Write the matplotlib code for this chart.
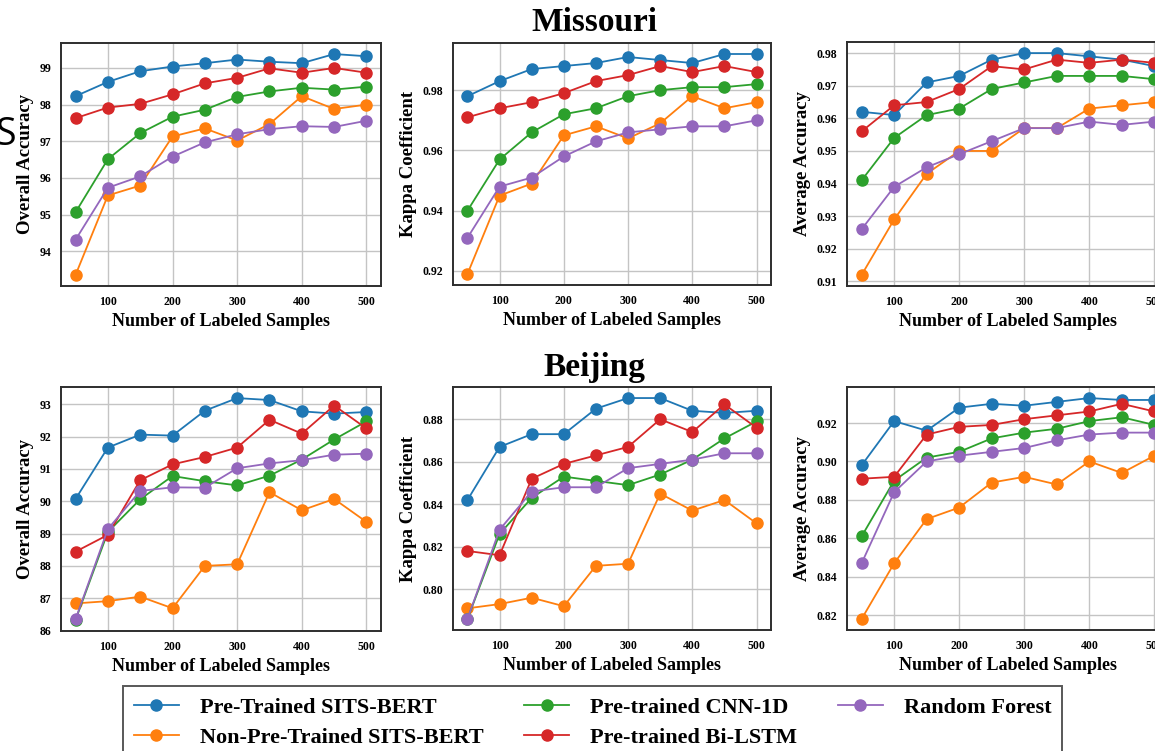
import matplotlib
matplotlib.use("Agg")
import matplotlib.pyplot as plt
from matplotlib.ticker import FormatStrFormatter

# Number of labeled samples per class
samples = [50, 100, 150, 200, 250, 300, 350, 400, 450, 500]

model_names = [
    "Pre-Trained SITS-BERT",
    "Non-Pre-Trained SITS-BERT",
    "Pre-trained CNN-1D",
    "Pre-trained Bi-LSTM",
    "Random Forest",
]
model_colors = ["#1f77b4", "#ff7f0e", "#2ca02c", "#d62728", "#9467bd"]

# Missouri - overall accuracy (%)
mo_oa_sits_bert = [98.23, 98.62, 98.91, 99.04, 99.13, 99.23, 99.17, 99.13, 99.38, 99.32]
mo_oa_sits_bert_np = [93.35, 95.52, 95.79, 97.13, 97.35, 97.02, 97.47, 98.23, 97.88, 98.00]
mo_oa_cnn = [95.06, 96.51, 97.22, 97.67, 97.86, 98.21, 98.36, 98.46, 98.41, 98.49]
mo_oa_lstm = [97.63, 97.92, 98.02, 98.28, 98.58, 98.73, 98.99, 98.87, 99.00, 98.87]
mo_oa_rf = [94.31, 95.73, 96.04, 96.58, 96.97, 97.19, 97.33, 97.41, 97.39, 97.56]

# Missouri - kappa coefficient
mo_kappa_sits_bert = [0.978, 0.983, 0.987, 0.988, 0.989, 0.991, 0.990, 0.989, 0.992, 0.992]
mo_kappa_sits_bert_np = [0.919, 0.945, 0.949, 0.965, 0.968, 0.964, 0.969, 0.978, 0.974, 0.976]
mo_kappa_cnn = [0.940, 0.957, 0.966, 0.972, 0.974, 0.978, 0.980, 0.981, 0.981, 0.982]
mo_kappa_lstm = [0.971, 0.974, 0.976, 0.979, 0.983, 0.985, 0.988, 0.986, 0.988, 0.986]
mo_kappa_rf = [0.931, 0.948, 0.951, 0.958, 0.963, 0.966, 0.967, 0.968, 0.968, 0.970]

# Missouri - average accuracy
mo_aa_sits_bert = [0.962, 0.961, 0.971, 0.973, 0.978, 0.980, 0.980, 0.979, 0.978, 0.976]
mo_aa_sits_bert_np = [0.912, 0.929, 0.943, 0.950, 0.950, 0.957, 0.957, 0.963, 0.964, 0.965]
mo_aa_cnn = [0.941, 0.954, 0.961, 0.963, 0.969, 0.971, 0.973, 0.973, 0.973, 0.972]
mo_aa_lstm = [0.956, 0.964, 0.965, 0.969, 0.976, 0.975, 0.978, 0.977, 0.978, 0.977]
mo_aa_rf = [0.926, 0.939, 0.945, 0.949, 0.953, 0.957, 0.957, 0.959, 0.958, 0.959]

# Beijing - overall accuracy (%)
bj_oa_sits_bert = [90.07, 91.66, 92.06, 92.03, 92.80, 93.19, 93.13, 92.78, 92.71, 92.76]
bj_oa_sits_bert_np = [86.84, 86.91, 87.05, 86.69, 88.00, 88.05, 90.28, 89.72, 90.07, 89.36]
bj_oa_cnn = [86.33, 89.05, 90.06, 90.78, 90.62, 90.49, 90.79, 91.29, 91.91, 92.47]
bj_oa_lstm = [88.44, 88.96, 90.65, 91.14, 91.37, 91.66, 92.52, 92.09, 92.96, 92.25]
bj_oa_rf = [86.35, 89.14, 90.32, 90.43, 90.42, 91.02, 91.17, 91.27, 91.44, 91.47]

# Beijing - kappa coefficient
bj_kappa_sits_bert = [0.842, 0.867, 0.873, 0.873, 0.885, 0.890, 0.890, 0.884, 0.883, 0.884]
bj_kappa_sits_bert_np = [0.791, 0.793, 0.796, 0.792, 0.811, 0.812, 0.845, 0.837, 0.842, 0.831]
bj_kappa_cnn = [0.786, 0.826, 0.843, 0.853, 0.851, 0.849, 0.854, 0.861, 0.871, 0.879]
bj_kappa_lstm = [0.818, 0.816, 0.852, 0.859, 0.863, 0.867, 0.880, 0.874, 0.887, 0.876]
bj_kappa_rf = [0.786, 0.828, 0.846, 0.848, 0.848, 0.857, 0.859, 0.861, 0.864, 0.864]

# Beijing - average accuracy
bj_aa_sits_bert = [0.898, 0.921, 0.916, 0.928, 0.930, 0.929, 0.931, 0.933, 0.932, 0.932]
bj_aa_sits_bert_np = [0.818, 0.847, 0.870, 0.876, 0.889, 0.892, 0.888, 0.900, 0.894, 0.903]
bj_aa_cnn = [0.861, 0.890, 0.902, 0.905, 0.912, 0.915, 0.917, 0.921, 0.923, 0.919]
bj_aa_lstm = [0.891, 0.892, 0.914, 0.918, 0.919, 0.922, 0.924, 0.926, 0.930, 0.926]
bj_aa_rf = [0.847, 0.884, 0.900, 0.903, 0.905, 0.907, 0.911, 0.914, 0.915, 0.915]

x_ticks = [100, 200, 300, 400, 500]
mo_oa_ticks = [94, 95, 96, 97, 98, 99]
mo_kappa_ticks = [0.92, 0.94, 0.96, 0.98]
mo_aa_ticks = [0.91, 0.92, 0.93, 0.94, 0.95, 0.96, 0.97, 0.98]
bj_oa_ticks = [86, 87, 88, 89, 90, 91, 92, 93]
bj_kappa_ticks = [0.80, 0.82, 0.84, 0.86, 0.88]
bj_aa_ticks = [0.82, 0.84, 0.86, 0.88, 0.90, 0.92]

SERIF = "Liberation Serif"
W, H = 1155, 751
fig = plt.figure(figsize=(W / 100, H / 100), dpi=100)


def px_axes(x0, y0, x1, y1):
    return fig.add_axes([x0 / W, 1 - y1 / H, (x1 - x0) / W, (y1 - y0) / H])


panels = [
    (px_axes(61, 43, 381, 286), "Overall Accuracy", "%d",
     [mo_oa_sits_bert, mo_oa_sits_bert_np, mo_oa_cnn, mo_oa_lstm, mo_oa_rf], mo_oa_ticks),
    (px_axes(453, 43, 771, 285), "Kappa Coefficient", "%.2f",
     [mo_kappa_sits_bert, mo_kappa_sits_bert_np, mo_kappa_cnn, mo_kappa_lstm, mo_kappa_rf], mo_kappa_ticks),
    (px_axes(847, 42, 1169, 286), "Average Accuracy", "%.2f",
     [mo_aa_sits_bert, mo_aa_sits_bert_np, mo_aa_cnn, mo_aa_lstm, mo_aa_rf], mo_aa_ticks),
    (px_axes(61, 387, 381, 631), "Overall Accuracy", "%d",
     [bj_oa_sits_bert, bj_oa_sits_bert_np, bj_oa_cnn, bj_oa_lstm, bj_oa_rf], bj_oa_ticks),
    (px_axes(453, 387, 771, 630), "Kappa Coefficient", "%.2f",
     [bj_kappa_sits_bert, bj_kappa_sits_bert_np, bj_kappa_cnn, bj_kappa_lstm, bj_kappa_rf], bj_kappa_ticks),
    (px_axes(847, 387, 1169, 630), "Average Accuracy", "%.2f",
     [bj_aa_sits_bert, bj_aa_sits_bert_np, bj_aa_cnn, bj_aa_lstm, bj_aa_rf], bj_aa_ticks),
]

handles = []
for ax, ylabel, fmt, series, yticks in panels:
    lines = []
    for values, name, color in zip(series, model_names, model_colors):
        (ln,) = ax.plot(samples, values, color=color, lw=1.3, marker="o",
                        markersize=8, label=name)
        lines.append(ln)
    handles = lines
    ax.set_xticks(x_ticks)
    ax.set_yticks(yticks)
    ax.yaxis.set_major_formatter(FormatStrFormatter(fmt))
    ax.grid(True, color="#c4c4c4", lw=1.0)
    ax.set_axisbelow(True)
    for sp in ax.spines.values():
        sp.set_color("#2e2e2e")
        sp.set_linewidth(1.4)
    ax.tick_params(length=0, pad=7, labelsize=8.5)
    for lab in ax.get_xticklabels() + ax.get_yticklabels():
        lab.set_fontfamily(SERIF)
        lab.set_fontweight("bold")
    ax.set_xlabel("Number of Labeled Samples", fontfamily=SERIF,
                  fontweight="bold", fontsize=13, labelpad=4)
    ax.set_ylabel(ylabel, fontfamily=SERIF, fontweight="bold",
                  fontsize=13.5, labelpad=4)

fig.text(594 / W, 1 - 31 / H, "Missouri", ha="center", va="baseline",
         fontfamily=SERIF, fontweight="bold", fontsize=24)
fig.text(594 / W, 1 - 376 / H, "Beijing", ha="center", va="baseline",
         fontfamily=SERIF, fontweight="bold", fontsize=24)

fig.text(-5 / W, 1 - 145 / H, "S", ha="left", va="baseline",
         fontfamily="Open Sans", fontsize=27, color="black")

leg = fig.legend(handles=handles, loc="upper left",
                 bbox_to_anchor=(123 / W, 1 - 686 / H), ncol=3,
                 prop={"family": SERIF, "weight": "bold", "size": 16},
                 frameon=True, fancybox=False, edgecolor="#2e2e2e",
                 handlelength=2.0, handletextpad=0.95, columnspacing=1.85,
                 labelspacing=0.45, borderpad=0.5, borderaxespad=0)
leg.get_frame().set_linewidth(1.4)

fig.savefig("out.png", dpi=100)
